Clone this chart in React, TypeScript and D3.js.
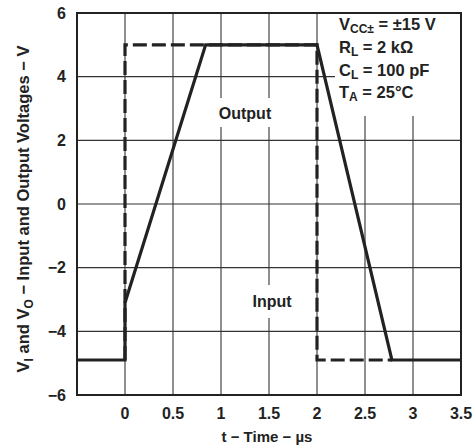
import React from "react";
import * as d3 from "d3";

const inputT = [0, 0, 2, 2, 2.78];
const inputV = [-4.9, 5, 5, -4.9, -4.9];
const outputT = [-0.5, 0, 0, 0.84, 2, 2.78, 3.5];
const outputV = [-4.9, -4.9, -3.1, 5, 5, -4.9, -4.9];
const xTicks = [0, 0.5, 1, 1.5, 2, 2.5, 3, 3.5];
const xGrid = [0, 0.5, 1, 1.5, 2, 2.5, 3];
const yTicks = [-6, -4, -2, 0, 2, 4, 6];
const yGrid = [-4, -2, 0, 2, 4];

const W = 475, H = 447;
const L = 77, R = 461, T = 13, B = 395;
const INK = "#222";
const FONT = "'Liberation Sans', Arial, Helvetica, sans-serif";

export default function App() {
  const x = d3.scaleLinear().domain([-0.5, 3.5]).range([L, R]);
  const y = d3.scaleLinear().domain([-6, 6]).range([B, T]);
  const line = d3.line<[number, number]>().x(d => x(d[0])).y(d => y(d[1]));
  const inPts = inputT.map((t, i) => [t, inputV[i]] as [number, number]);
  const outPts = outputT.map((t, i) => [t, outputV[i]] as [number, number]);
  const fmt = (v: number) => (v < 0 ? "\u2212" + Math.abs(v) : String(v));

  return (
    <div style={{ position: "absolute", left: 0, top: 0 }}>
      <svg width={W} height={H} style={{ display: "block", background: "#fff" }} fontFamily={FONT} fontWeight="bold">
        <rect x={0} y={0} width={W} height={H} fill="#fff" />
        {xGrid.map(v => (
          <line key={"gx" + v} x1={x(v)} x2={x(v)} y1={T} y2={B} stroke="#333" strokeWidth={1.1} />
        ))}
        {yGrid.map(v => (
          <line key={"gy" + v} x1={L} x2={R} y1={y(v)} y2={y(v)} stroke="#333" strokeWidth={1.1} />
        ))}
        {/* white backgrounds behind labels */}
        <rect x={335} y={T + 1} width={R - 336} height={102} fill="#fff" />
        <rect x={x(1.25) - 31} y={98} width={62} height={29} fill="#fff" />
        <rect x={x(1.5) - 24} y={285} width={48} height={33} fill="#fff" />

        <path d={line(inPts) || ""} fill="none" stroke={INK} strokeWidth={3.2} strokeDasharray="14,5" />
        <path d={line(outPts) || ""} fill="none" stroke={INK} strokeWidth={3.2} strokeLinejoin="miter" />

        <rect x={L} y={T} width={R - L} height={B - T} fill="none" stroke={INK} strokeWidth={2} />

        {yTicks.map(v => (
          <text key={"yt" + v} x={66} y={y(v) + 5.5} textAnchor="end" fontSize={16} fill={INK}>
            {fmt(v)}
          </text>
        ))}
        {xTicks.map(v => (
          <text key={"xt" + v} x={x(v)} y={419} textAnchor="middle" fontSize={16} fill={INK}>
            {fmt(v)}
          </text>
        ))}
        <text x={x(1.5) - 2} y={442} textAnchor="middle" fontSize={15} fill={INK}>
          t − Time − µs
        </text>
        <text transform={`translate(29,${(T + B) / 2 + 5}) rotate(-90)`} textAnchor="middle" fontSize={16.5} fill={INK}>
          V<tspan fontSize={12} dy={4}>I</tspan>
          <tspan dy={-4}> and V</tspan>
          <tspan fontSize={12} dy={4}>O</tspan>
          <tspan dy={-4}> − Input and Output Voltages − V</tspan>
        </text>

        <text x={x(1.25)} y={119} textAnchor="middle" fontSize={16} fill={INK}>Output</text>
        <text x={x(1.5) + 3} y={307} textAnchor="middle" fontSize={16} fill={INK}>Input</text>

        <g fontSize={16.5} fill={INK}>
          <text x={339} y={30}>
            V<tspan fontSize={12} dy={3}>CC±</tspan><tspan dy={-3}> = ±15 V</tspan>
          </text>
          <text x={339} y={53}>
            R<tspan fontSize={12} dy={3}>L</tspan><tspan dy={-3}> = 2 kΩ</tspan>
          </text>
          <text x={339} y={76}>
            C<tspan fontSize={12} dy={3}>L</tspan><tspan dy={-3}> = 100 pF</tspan>
          </text>
          <text x={339} y={98}>
            T<tspan fontSize={12} dy={3}>A</tspan><tspan dy={-3}> = 25°C</tspan>
          </text>
        </g>
      </svg>
    </div>
  );
}
